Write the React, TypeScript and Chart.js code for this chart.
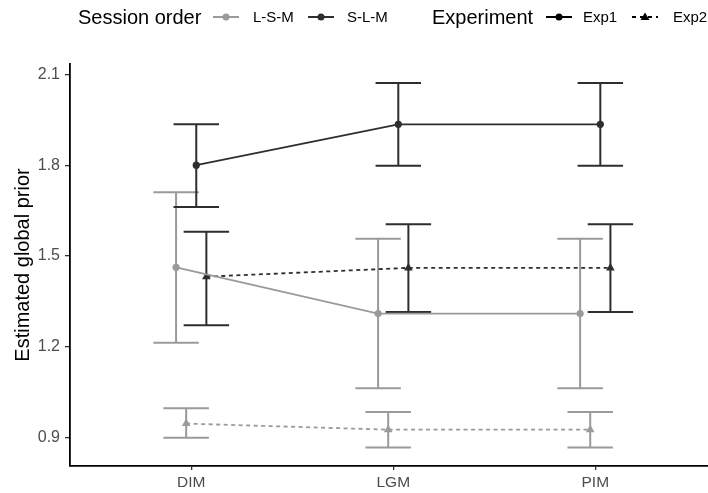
import React, { useEffect, useRef } from "react";
import { Chart, registerables } from "chart.js";

Chart.register(...registerables);

// Categories on the x axis
const CATEGORIES = ["DIM", "LGM", "PIM"];
const Y_TICKS = [0.9, 1.2, 1.5, 1.8, 2.1];

// Experiment 1, session order L-S-M
const EXP1_LSM_MEAN = [1.463, 1.31, 1.31];
const EXP1_LSM_LOW = [1.214, 1.064, 1.064];
const EXP1_LSM_HIGH = [1.711, 1.557, 1.557];

// Experiment 1, session order S-L-M
const EXP1_SLM_MEAN = [1.8, 1.935, 1.935];
const EXP1_SLM_LOW = [1.662, 1.798, 1.798];
const EXP1_SLM_HIGH = [1.935, 2.071, 2.071];

// Experiment 2, session order L-S-M
const EXP2_LSM_MEAN = [0.947, 0.927, 0.927];
const EXP2_LSM_LOW = [0.9, 0.868, 0.868];
const EXP2_LSM_HIGH = [0.998, 0.985, 0.985];

// Experiment 2, session order S-L-M
const EXP2_SLM_MEAN = [1.432, 1.461, 1.461];
const EXP2_SLM_LOW = [1.272, 1.315, 1.315];
const EXP2_SLM_HIGH = [1.58, 1.605, 1.605];

const DARK = "#2e2e2e";
const GREY = "#9a9a9a";
const FONT = "'Liberation Sans', Arial, Helvetica, sans-serif";
const CAP_HALF = 0.1125; // half width of error-bar caps, in category units

type Series = {
  label: string;
  mean: number[];
  low: number[];
  high: number[];
  dodge: number;
  color: string;
  dashed: boolean;
  marker: "circle" | "triangle";
};

const SERIES: Series[] = [
  { label: "L-S-M Exp1", mean: EXP1_LSM_MEAN, low: EXP1_LSM_LOW, high: EXP1_LSM_HIGH, dodge: -0.075, color: GREY, dashed: false, marker: "circle" },
  { label: "L-S-M Exp2", mean: EXP2_LSM_MEAN, low: EXP2_LSM_LOW, high: EXP2_LSM_HIGH, dodge: -0.025, color: GREY, dashed: true, marker: "triangle" },
  { label: "S-L-M Exp1", mean: EXP1_SLM_MEAN, low: EXP1_SLM_LOW, high: EXP1_SLM_HIGH, dodge: 0.025, color: DARK, dashed: false, marker: "circle" },
  { label: "S-L-M Exp2", mean: EXP2_SLM_MEAN, low: EXP2_SLM_LOW, high: EXP2_SLM_HIGH, dodge: 0.075, color: DARK, dashed: true, marker: "triangle" },
];

// Draws vertical error bars with caps beneath the lines and points
const errorBarPlugin = {
  id: "errorBars",
  beforeDatasetsDraw(chart: any) {
    const { ctx, scales } = chart;
    const xs = scales.x;
    const ys = scales.y;
    ctx.save();
    ctx.lineWidth = 2;
    ctx.setLineDash([]);
    SERIES.forEach((s) => {
      ctx.strokeStyle = s.color;
      s.mean.forEach((_, i) => {
        const xv = i + 1 + s.dodge;
        const x = xs.getPixelForValue(xv);
        const xl = xs.getPixelForValue(xv - CAP_HALF);
        const xr = xs.getPixelForValue(xv + CAP_HALF);
        const yl = ys.getPixelForValue(s.low[i]);
        const yh = ys.getPixelForValue(s.high[i]);
        ctx.beginPath();
        ctx.moveTo(x, yl);
        ctx.lineTo(x, yh);
        ctx.moveTo(xl, yl);
        ctx.lineTo(xr, yl);
        ctx.moveTo(xl, yh);
        ctx.lineTo(xr, yh);
        ctx.stroke();
      });
    });
    ctx.restore();
  },
};

function LegendKey({ color, dashed, marker }: { color: string; dashed: boolean; marker: "circle" | "triangle" }) {
  return (
    <svg width={28} height={14} style={{ display: "block" }}>
      <line x1={1} y1={7} x2={27} y2={7} stroke={color} strokeWidth={2} strokeDasharray={dashed ? "4 4" : undefined} />
      {marker === "circle" ? (
        <circle cx={14} cy={7} r={3.5} fill={color} />
      ) : (
        <polygon points="14,2.5 18.5,10 9.5,10" fill={color} />
      )}
    </svg>
  );
}

const abs = (left: number, top: number): React.CSSProperties => ({ position: "absolute", left, top, whiteSpace: "nowrap" });

export default function App() {
  const canvasRef = useRef<HTMLCanvasElement | null>(null);

  useEffect(() => {
    const canvas = canvasRef.current;
    if (!canvas) return;
    const chart = new Chart(canvas, {
      type: "line",
      data: {
        datasets: SERIES.map((s) => ({
          label: s.label,
          data: s.mean.map((v, i) => ({ x: i + 1 + s.dodge, y: v })),
          borderColor: s.color,
          backgroundColor: s.color,
          borderWidth: 1.8,
          borderDash: s.dashed ? [4, 3.5] : [],
          pointStyle: s.marker,
          pointRadius: s.marker === "circle" ? 3.6 : 5,
          pointBorderWidth: 0,
          pointBackgroundColor: s.color,
          tension: 0,
          fill: false,
        })),
      },
      options: {
        responsive: false,
        animation: false,
        devicePixelRatio: 1,
        layout: { autoPadding: false, padding: { top: 64, left: 0, right: 0, bottom: 0 } },
        plugins: {
          legend: { display: false },
          tooltip: { enabled: false },
        },
        scales: {
          x: {
            type: "linear",
            min: 0.4,
            max: 3.558,
            afterFit: (scale: any) => {
              scale.height = 27;
              scale.paddingLeft = 0;
              scale.paddingRight = 0;
            },
            afterBuildTicks: (scale: any) => {
              scale.ticks = CATEGORIES.map((_, i) => ({ value: i + 1 }));
            },
            ticks: {
              callback: (v: any) => CATEGORIES[Number(v) - 1] ?? "",
              color: "#4d4d4d",
              font: { family: FONT, size: 15.5 },
              padding: 3,
              maxRotation: 0,
              autoSkip: false,
            },
            grid: { display: true, drawOnChartArea: false, drawTicks: true, tickLength: 4, color: "#333333", lineWidth: 1.3 },
            border: { display: true, color: "#000000", width: 1.8 },
          },
          y: {
            type: "linear",
            min: 0.807,
            max: 2.134,
            afterFit: (scale: any) => {
              scale.width = 70;
              scale.paddingTop = 0;
              scale.paddingBottom = 0;
            },
            afterBuildTicks: (scale: any) => {
              scale.ticks = Y_TICKS.map((v) => ({ value: v }));
            },
            ticks: {
              callback: (v: any) => Number(v).toFixed(1),
              color: "#4d4d4d",
              font: { family: FONT, size: 16 },
              padding: 5,
            },
            title: {
              display: true,
              text: "Estimated global prior",
              color: "#000000",
              font: { family: FONT, size: 20 },
              padding: { top: 11, bottom: 0 },
            },
            grid: { display: true, drawOnChartArea: false, drawTicks: true, tickLength: 5, color: "#333333", lineWidth: 1.3 },
            border: { display: true, color: "#000000", width: 1.8 },
          },
        },
      },
      plugins: [errorBarPlugin],
    } as any);
    return () => chart.destroy();
  }, []);

  const titleStyle: React.CSSProperties = { fontFamily: FONT, fontSize: 20, lineHeight: "22px", color: "#000" };
  const labelStyle: React.CSSProperties = { fontFamily: FONT, fontSize: 15, lineHeight: "18px", color: "#000" };

  return (
    <div style={{ position: "fixed", left: 0, top: 0, width: 708, height: 493, background: "#ffffff", overflow: "hidden" }}>
      <canvas ref={canvasRef} width={708} height={493} style={{ position: "absolute", left: 0, top: 0 }} />
      <div style={{ position: "absolute", left: 0, top: 0, width: 708, height: 40 }}>
        <span style={{ ...abs(78, 6), ...titleStyle }}>Session order</span>
        <div style={abs(212, 10)}><LegendKey color={GREY} dashed={false} marker="circle" /></div>
        <span style={{ ...abs(253, 8), ...labelStyle }}>L-S-M</span>
        <div style={abs(307, 10)}><LegendKey color={DARK} dashed={false} marker="circle" /></div>
        <span style={{ ...abs(347, 8), ...labelStyle }}>S-L-M</span>
        <span style={{ ...abs(432, 6), ...titleStyle }}>Experiment</span>
        <div style={abs(545, 10)}><LegendKey color="#000000" dashed={false} marker="circle" /></div>
        <span style={{ ...abs(583, 8), ...labelStyle }}>Exp1</span>
        <div style={abs(631, 10)}><LegendKey color="#000000" dashed={true} marker="triangle" /></div>
        <span style={{ ...abs(673, 8), ...labelStyle }}>Exp2</span>
      </div>
    </div>
  );
}
